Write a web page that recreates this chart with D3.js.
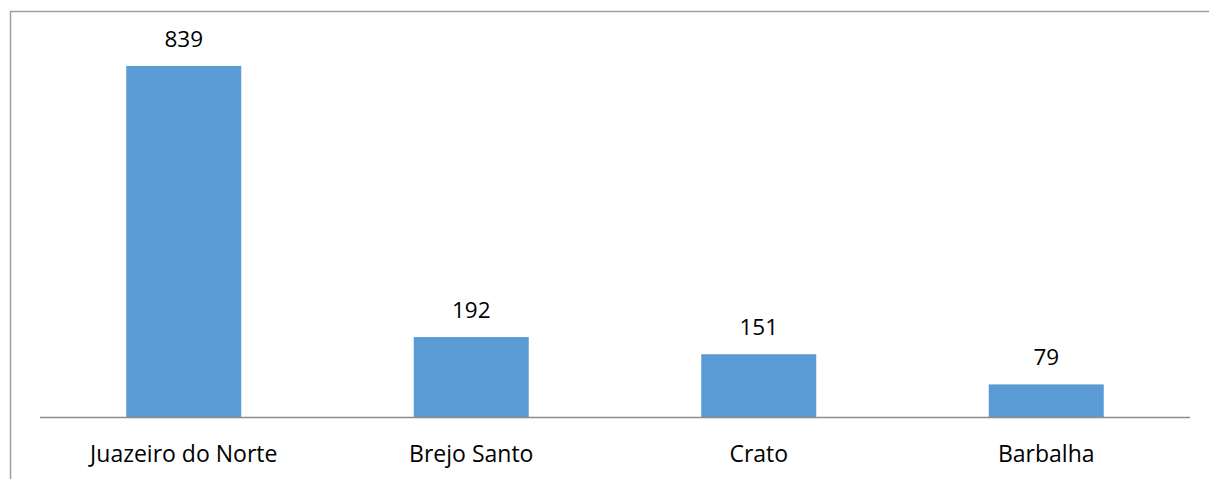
<!DOCTYPE html>
<html>
<head>
<meta charset="utf-8">
<script src="https://cdn.jsdelivr.net/npm/d3@7"></script>
<style>
  html, body { margin: 0; padding: 0; background: #fff; }
  svg { display: block; }
  text { font-family: "Open Sans", "Liberation Sans", sans-serif; fill: #000; }
</style>
</head>
<body>
<svg id="chart"></svg>
<script>
// data
const cities = ["Juazeiro do Norte", "Brejo Santo", "Crato", "Barbalha"];
const counts = [839, 192, 151, 79];

const width = 1209;
const height = 479;
const svg = d3.select("#chart").attr("width", width).attr("height", height);

// chart frame (only left and top edges fall inside the picture)
svg.append("rect")
    .attr("x", 10.5)
    .attr("y", 11.5)
    .attr("width", 1220)
    .attr("height", 500)
    .attr("fill", "none")
    .attr("stroke", "#a0a0a0")
    .attr("stroke-width", 1.5);

const plot = { left: 40, right: 1190, top: 40.4, bottom: 417.5 };

const x = d3.scaleBand()
    .domain(cities)
    .range([plot.left, plot.right])
    .paddingInner(0.6)
    .paddingOuter(0.3);

const y = d3.scaleLinear()
    .domain([0, 900])
    .range([plot.bottom, plot.top]);

const rows = cities.map((c, i) => ({ city: c, value: counts[i] }));

svg.selectAll(".bar")
    .data(rows)
    .enter()
    .append("rect")
    .attr("class", "bar")
    .attr("x", d => x(d.city))
    .attr("y", d => y(d.value))
    .attr("width", x.bandwidth())
    .attr("height", d => y(0) - y(d.value))
    .attr("fill", "#5b9bd5");

// value labels
svg.selectAll(".val")
    .data(rows)
    .enter()
    .append("text")
    .attr("class", "val")
    .attr("x", d => x(d.city) + x.bandwidth() / 2)
    .attr("y", d => y(d.value) - 19)
    .attr("text-anchor", "middle")
    .style("font-size", "22.5px")
    .text(d => d.value);

// x axis
const xAxis = svg.append("g")
    .attr("transform", `translate(0,${plot.bottom})`)
    .call(d3.axisBottom(x).tickSize(0).tickPadding(0));
xAxis.select(".domain").attr("stroke", "#8c8c8c").attr("stroke-width", 1.5)
    .attr("d", `M${plot.left},0H${plot.right}`);
xAxis.selectAll(".tick text")
    .attr("y", 44)
    .attr("dy", 0)
    .style("font-size", "23px")
    .style("font-family", "\"Open Sans\", \"Liberation Sans\", sans-serif")
    .attr("fill", "#000");
</script>
</body>
</html>
